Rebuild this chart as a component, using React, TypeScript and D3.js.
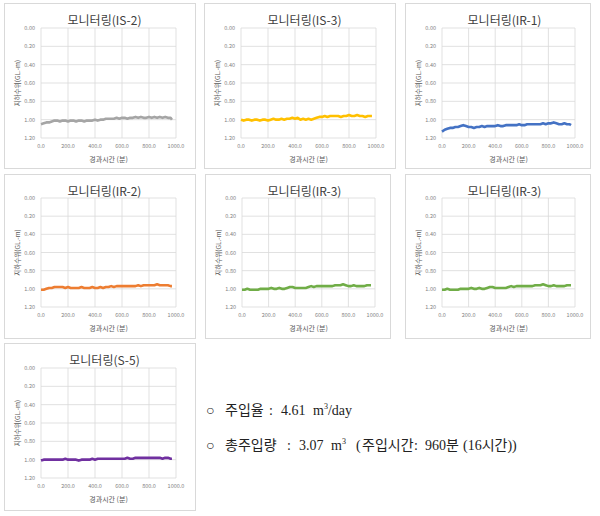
import React from "react";
import * as d3 from "d3";

const minutes = [0,20,40,60,80,100,120,140,160,180,200,220,240,260,280,300,320,340,360,380,400,420,440,460,480,500,520,540,560,580,600,620,640,660,680,700,720,740,760,780,800,820,840,860,880,900,920,940,960,970];

const is2 = [1.05,1.04,1.03,1.03,1.02,1.01,1.01,1.02,1.01,1.01,1.02,1.01,1.01,1.02,1.01,1.01,1.02,1.01,1.01,1.01,1.00,1.01,1.00,1.00,0.99,0.99,0.99,0.99,0.98,0.99,0.98,0.98,0.99,0.98,0.98,0.97,0.98,0.97,0.98,0.98,0.97,0.98,0.97,0.98,0.97,0.98,0.97,0.98,0.98,1.00];
const is3 = [1.00,1.01,1.00,1.00,1.01,1.00,1.00,1.01,1.00,1.00,1.01,1.00,0.99,1.00,1.00,0.99,1.00,0.99,0.99,0.98,0.99,0.98,1.00,0.99,1.00,0.99,1.00,0.99,0.98,0.97,0.97,0.96,0.97,0.96,0.96,0.96,0.96,0.97,0.96,0.96,0.95,0.96,0.96,0.95,0.96,0.96,0.97,0.96,0.96,0.96];
const ir1 = [1.13,1.11,1.10,1.09,1.09,1.08,1.08,1.07,1.06,1.07,1.08,1.08,1.09,1.08,1.08,1.07,1.08,1.07,1.07,1.07,1.07,1.06,1.07,1.07,1.06,1.06,1.06,1.06,1.06,1.05,1.06,1.06,1.05,1.05,1.05,1.05,1.05,1.05,1.04,1.05,1.04,1.04,1.03,1.04,1.05,1.05,1.04,1.05,1.05,1.06];
const ir2 = [1.01,1.01,1.00,0.99,0.99,0.98,0.98,0.98,0.98,0.99,0.98,0.99,0.99,0.99,0.99,0.98,0.99,0.99,0.99,0.98,0.99,0.99,0.98,0.99,0.98,0.98,0.97,0.98,0.97,0.97,0.97,0.97,0.97,0.97,0.97,0.97,0.96,0.97,0.96,0.96,0.96,0.96,0.96,0.95,0.96,0.96,0.96,0.96,0.97,0.97];
const ir3 = [1.01,1.01,1.00,1.01,1.01,1.01,1.01,1.00,1.00,1.00,1.00,0.99,1.00,1.00,0.99,1.00,1.00,0.99,0.98,0.98,0.99,0.99,0.99,0.99,0.99,0.98,0.97,0.98,0.97,0.97,0.97,0.97,0.97,0.97,0.97,0.96,0.96,0.96,0.95,0.96,0.97,0.97,0.96,0.97,0.97,0.97,0.97,0.96,0.96,0.96];
const s5 = [1.01,1.00,1.00,1.00,1.00,1.00,1.00,1.00,1.00,0.99,1.00,1.00,1.00,1.00,1.01,1.00,1.00,1.00,1.00,0.99,1.00,0.99,0.99,0.99,0.99,0.99,0.99,0.99,0.99,0.99,0.99,0.99,0.98,0.99,0.99,0.98,0.98,0.98,0.98,0.98,0.98,0.98,0.98,0.98,0.98,0.99,0.98,0.98,0.99,0.99];

const xTicks = [0, 200, 400, 600, 800, 1000];
const yTicks = [0, 0.2, 0.4, 0.6, 0.8, 1.0, 1.2];

const titles = ["모니터링(IS-2)", "모니터링(IS-3)", "모니터링(IR-1)", "모니터링(IR-2)", "모니터링(IR-3)", "모니터링(IR-3)", "모니터링(S-5)"];
const seriesList = [is2, is3, ir1, ir2, ir3, ir3, s5];
const colors = ["#a5a5a5", "#ffc000", "#4472c4", "#ed7d31", "#70ad47", "#70ad47", "#7030a0"];

const layout = [
  { bx: 4, by: 3, bw: 191, bh: 165, l: 41, r: 176, t: 28, b: 138 },
  { bx: 204, by: 3, bw: 191, bh: 165, l: 241, r: 376, t: 28, b: 138 },
  { bx: 405, by: 3, bw: 185, bh: 165, l: 442, r: 575, t: 28, b: 138 },
  { bx: 4, by: 174, bw: 191, bh: 164, l: 41, r: 176, t: 198, b: 307 },
  { bx: 205, by: 174, bw: 185, bh: 164, l: 242, r: 375, t: 198, b: 307 },
  { bx: 405, by: 174, bw: 185, bh: 164, l: 442, r: 575, t: 198, b: 307 },
  { bx: 4, by: 343, bw: 191, bh: 167, l: 41, r: 176, t: 368, b: 478 },
];

const sans = "'Noto Sans CJK KR', 'Noto Sans', sans-serif";
const serif = "'Liberation Serif', 'Noto Sans CJK KR', serif";

function Panel({ i }: { i: number }) {
  const L = layout[i];
  const x = d3.scaleLinear().domain([0, 1000]).range([L.l, L.r]);
  const y = d3.scaleLinear().domain([0, 1.2]).range([L.t, L.b]);
  const data = seriesList[i];
  const line = d3
    .line<number>()
    .x((_, k) => x(minutes[k]))
    .y((d) => y(d));
  const cx = (L.l + L.r) / 2 - 4;
  return (
    <g>
      <rect x={L.bx + 0.5} y={L.by + 0.5} width={L.bw} height={L.bh} fill="#fff" stroke="#d9d9d9" />
      <text x={cx} y={L.by + 22} textAnchor="middle" fontFamily={sans} fontSize={12} fill="#404040">
        {titles[i]}
      </text>
      {yTicks.map((v) => (
        <g key={"y" + v}>
          <line x1={L.l} x2={L.r} y1={y(v)} y2={y(v)} stroke="#d9d9d9" strokeWidth={0.8} />
          <text x={L.l - 6} y={y(v) + 2} textAnchor="end" fontFamily={sans} fontSize={5.5} fill="#7f7f7f">
            {v.toFixed(2)}
          </text>
        </g>
      ))}
      {xTicks.map((v) => (
        <g key={"x" + v}>
          <line x1={x(v)} x2={x(v)} y1={L.t} y2={L.b} stroke="#d9d9d9" strokeWidth={0.8} />
          <text x={x(v)} y={L.b + 10} textAnchor="middle" fontFamily={sans} fontSize={5.5} fill="#7f7f7f">
            {v.toFixed(1)}
          </text>
        </g>
      ))}
      <text x={(L.l + L.r) / 2} y={L.b + 24} textAnchor="middle" fontFamily={sans} fontSize={7} fill="#595959">
        경과시간 (분)
      </text>
      <text
        transform={`translate(${L.l - 21},${(L.t + L.b) / 2}) rotate(-90)`}
        textAnchor="middle"
        fontFamily={sans}
        fontSize={6.5}
        fill="#595959"
      >
        지하수위(GL.-m)
      </text>
      <path d={line(data) || ""} fill="none" stroke={colors[i]} strokeWidth={2.6} strokeLinejoin="round" />
    </g>
  );
}

export default function App() {
  return (
    <svg width={600} height={516} style={{ position: "absolute", left: 0, top: 0, background: "#fff" }}>
      {layout.map((_, i) => (
        <Panel key={i} i={i} />
      ))}
      <g fontFamily={serif} fontSize={14} fill="#222">
        <text y={415}>
          <tspan x={206}>○</tspan>
          <tspan x={225}>주입율</tspan>
          <tspan x={269}>:</tspan>
          <tspan x={281}>4.61</tspan>
          <tspan x={313}>m</tspan>
          <tspan fontSize={8} dy={-6}>3</tspan>
          <tspan dy={6}>/day</tspan>
        </text>
        <text y={450}>
          <tspan x={206}>○</tspan>
          <tspan x={225}>총주입량</tspan>
          <tspan x={287}>:</tspan>
          <tspan x={299}>3.07</tspan>
          <tspan x={331}>m</tspan>
          <tspan fontSize={8} dy={-6}>3</tspan>
          <tspan x={356} dy={6}>(</tspan>
          <tspan x={362}>주입시간</tspan>
          <tspan x={414}>:</tspan>
          <tspan x={425}>960분</tspan>
          <tspan x={463}>(16시간))</tspan>
        </text>
      </g>
    </svg>
  );
}
